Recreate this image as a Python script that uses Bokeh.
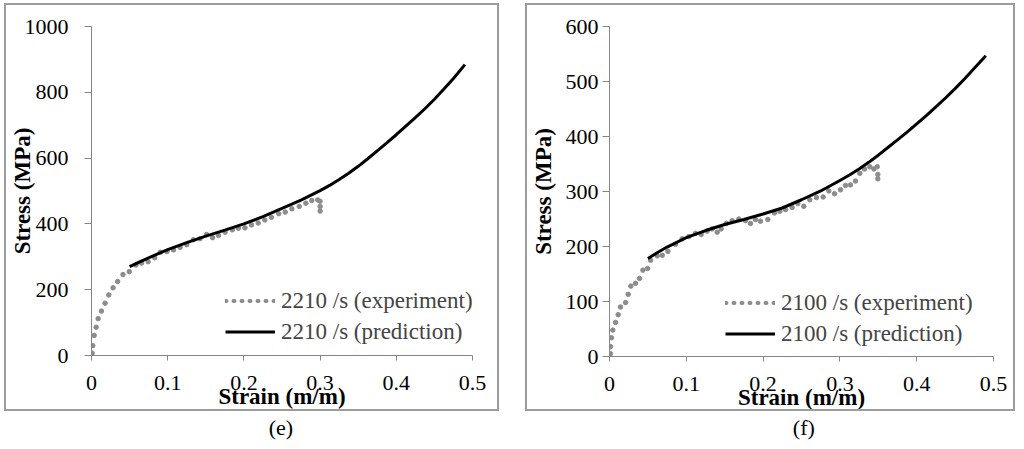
from bokeh.embed import file_html
from bokeh.resources import INLINE
from bokeh.layouts import row, column
from bokeh.models import Range1d, Legend, LegendItem, FixedTicker, Label, NumeralTickFormatter
from bokeh.plotting import figure

# panel (e): 2210 /s
exp_e_strain = [0.0, 0.0009, 0.0017, 0.0035, 0.0061, 0.0087, 0.013, 0.0178, 0.0226, 0.0283,
                0.0343, 0.0413, 0.0496, 0.0583, 0.0657, 0.0743, 0.0829, 0.0903, 0.099, 0.1076,
                0.1163, 0.125, 0.1337, 0.1424, 0.151, 0.1589, 0.1667, 0.1753, 0.1849, 0.1927,
                0.2014, 0.21, 0.2188, 0.2274, 0.2361, 0.2457, 0.2543, 0.263, 0.2726, 0.2813,
                0.2891, 0.2969, 0.2999, 0.3, 0.3]
exp_e_stress = [0, 7, 30, 61, 86, 112, 135, 159, 184, 206,
                225, 246, 255, 275, 281, 285, 297, 314, 316, 321,
                329, 337, 352, 355, 368, 358, 365, 375, 382, 387,
                388, 397, 403, 412, 420, 431, 436, 446, 453, 463,
                471, 473, 469, 453, 439]
pred_e_strain = [0.05, 0.0625, 0.075, 0.1, 0.125, 0.15, 0.175, 0.2, 0.225, 0.25, 0.275,
                 0.3, 0.3125, 0.325, 0.3375, 0.35, 0.3625, 0.375, 0.3875, 0.4, 0.4125,
                 0.425, 0.4375, 0.45, 0.4625, 0.475, 0.49]
pred_e_stress = [270, 284, 297, 322, 343, 363, 381, 400, 422, 447, 472,
                 501, 517, 535, 554, 575, 598, 622, 646, 671, 697,
                 723, 750, 779, 810, 842, 884]

# panel (f): 2100 /s
exp_f_strain = [0.0, 0.0013, 0.0013, 0.0026, 0.0043, 0.0078, 0.0113, 0.0143, 0.0209, 0.0243,
                0.0278, 0.0339, 0.0391, 0.0435, 0.0496, 0.0535, 0.0622, 0.0687, 0.076, 0.0859,
                0.0946, 0.1033, 0.112, 0.1194, 0.1272, 0.1337, 0.1402, 0.1454, 0.1523, 0.1597,
                0.1684, 0.1771, 0.1836, 0.1901, 0.1966, 0.2062, 0.2148, 0.2218, 0.2292, 0.2378,
                0.2452, 0.253, 0.2608, 0.2695, 0.2782, 0.2856, 0.293, 0.3008, 0.3073, 0.3138,
                0.3203, 0.3259, 0.332, 0.339, 0.3442, 0.3486, 0.3494, 0.3494]
exp_f_stress = [0, 5, 18, 34, 48, 62, 76, 90, 98, 113,
                128, 133, 142, 157, 160, 175, 183, 184, 191, 204,
                214, 218, 224, 222, 228, 232, 226, 232, 242, 247,
                250, 247, 242, 249, 246, 249, 261, 264, 267, 271,
                278, 273, 285, 289, 290, 301, 296, 303, 311, 312,
                319, 333, 341, 345, 341, 345, 331, 323]
pred_f_strain = [0.05, 0.0625, 0.075, 0.1, 0.125, 0.15, 0.175, 0.2, 0.225, 0.25, 0.275,
                 0.3, 0.3125, 0.325, 0.3375, 0.35, 0.3625, 0.375, 0.3875, 0.4, 0.4125,
                 0.425, 0.4375, 0.45, 0.4625, 0.475, 0.49]
pred_f_stress = [178, 189, 199, 216, 229, 240, 249, 259, 270, 285, 301,
                 320, 330, 341, 353, 366, 380, 394, 408, 423, 438,
                 454, 470, 487, 505, 524, 547]

x_ticks = [0, 0.1, 0.2, 0.3, 0.4, 0.5]
y_ticks_e = [0, 200, 400, 600, 800, 1000]
y_ticks_f = [0, 100, 200, 300, 400, 500, 600]

FONT = "Liberation Serif"
AXIS_GREY = "#868686"
DOT_GREY = "#8c8c8c"
NAN = float("nan")


def make_panel(exp_x, exp_y, pred_x, pred_y, y_ticks, rate, width, frame_right, frame_bottom,
               tick_standoff, ylabel_standoff, legend_loc):
    p = figure(width=width, height=408, title=None,
               x_range=Range1d(0, 0.5), y_range=Range1d(0, y_ticks[-1]),
               output_backend="svg", toolbar_location=None,
               min_border_left=82, min_border_right=frame_right,
               min_border_top=21, min_border_bottom=frame_bottom,
               styles={"border": "2px solid #9c9c9c"})
    p.outline_line_color = None
    p.grid.grid_line_color = None

    p.xaxis.ticker = FixedTicker(ticks=x_ticks)
    p.xaxis.formatter = NumeralTickFormatter(format="0.[0]")
    p.yaxis.ticker = FixedTicker(ticks=y_ticks)

    for ax in (p.xaxis[0], p.yaxis[0]):
        ax.axis_line_color = AXIS_GREY
        ax.major_tick_line_color = AXIS_GREY
        ax.minor_tick_line_color = None
        ax.major_tick_in = 0
        ax.major_label_text_font = FONT
        ax.major_label_text_font_size = "22px"
        ax.major_label_text_color = "black"
        ax.axis_label_text_font = FONT
        ax.axis_label_text_font_size = "23px"
        ax.axis_label_text_font_style = "bold"
        ax.axis_label_text_color = "black"

    p.xaxis.axis_label = "Strain (m/m)"
    p.xaxis.major_tick_out = 5
    p.xaxis.major_label_standoff = 15
    p.xaxis.axis_label_standoff = -9

    p.yaxis.axis_label = "Stress (MPa)"
    p.yaxis.major_tick_out = 7
    p.yaxis.major_label_standoff = tick_standoff
    p.yaxis.axis_label_standoff = ylabel_standoff

    p.scatter(exp_x, exp_y, size=4.5, color=DOT_GREY)
    pred = p.line(pred_x, pred_y, line_color="black", line_width=3)
    # dotted line that only shows up as the legend swatch
    dummy = p.line(x=[NAN], y=[NAN], line_color=DOT_GREY, line_width=4,
                   line_dash="1 7", line_cap="round")

    legend = Legend(items=[
        LegendItem(label=f"{rate} /s (experiment)", renderers=[dummy]),
        LegendItem(label=f"{rate} /s (prediction)", renderers=[pred]),
    ], location=legend_loc)
    legend.border_line_color = None
    legend.background_fill_alpha = 0
    legend.padding = 0
    legend.margin = 0
    legend.spacing = 0
    legend.glyph_width = 50
    legend.glyph_height = 31
    legend.label_height = 31
    legend.label_standoff = 6
    legend.label_text_font = FONT
    legend.label_text_font_size = "23px"
    p.add_layout(legend)
    return p


def make_caption(text, width, frac):
    c = figure(width=width, height=32, title=None, x_range=Range1d(0, 1), y_range=Range1d(0, 1),
               output_backend="svg", toolbar_location=None, min_border=0)
    c.axis.visible = False
    c.grid.grid_line_color = None
    c.outline_line_color = None
    c.add_layout(Label(x=frac, y=0.5, text=text, text_align="center", text_baseline="middle",
                       text_font=FONT, text_font_size="22px", text_color="black"))
    return c


p_e = make_panel(exp_e_strain, exp_e_stress, pred_e_strain, pred_e_stress, y_ticks_e, "2210",
                 495, 29, 58, 16, -13, (134, 8))
p_f = make_panel(exp_f_strain, exp_f_stress, pred_f_strain, pred_f_stress, y_ticks_f, "2100",
                 490, 24, 57, 4, 7, (116, 7))

cap_e = make_caption("(e)", 499, 0.497)
cap_f = make_caption("(f)", 494, 0.506)

layout = row(column(p_e, cap_e), column(p_f, cap_f), spacing=22, margin=(3, 0, 0, 4))

open("out.html", "w").write(file_html(layout, INLINE))
